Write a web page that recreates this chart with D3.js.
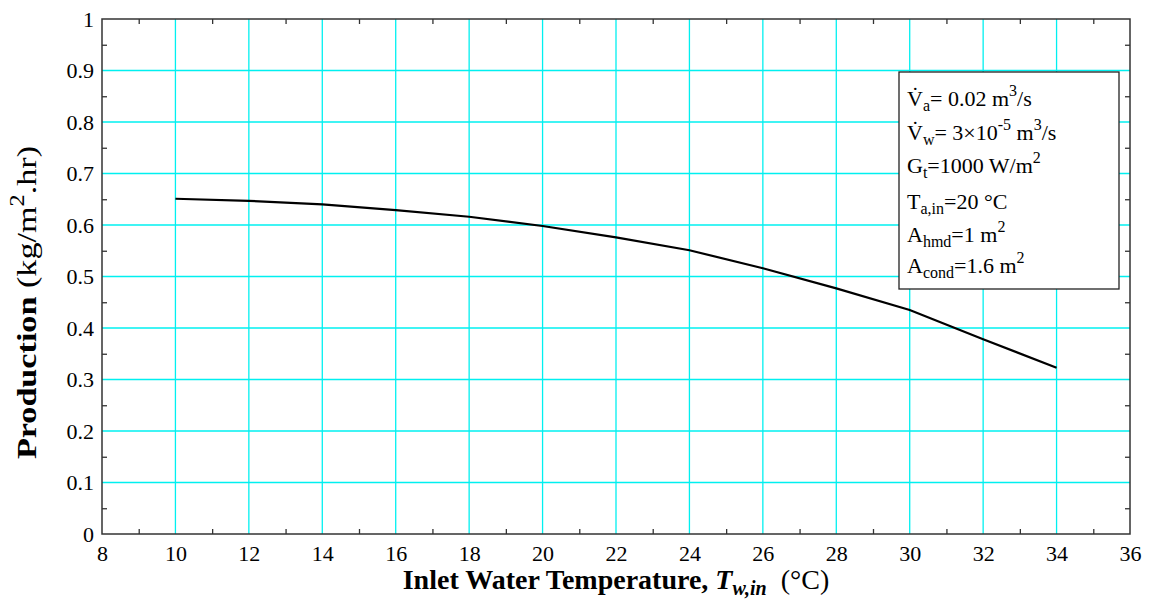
<!DOCTYPE html>
<html>
<head>
<meta charset="utf-8">
<script src="https://cdn.jsdelivr.net/npm/d3@7"></script>
<style>
  body { margin: 0; background: #fff; }
  svg, svg text { font-family: "Times New Roman", "Liberation Serif", serif; }
  .grid line { stroke: #00f0f0; stroke-width: 1.3; }
  .frame { fill: none; stroke: #333; stroke-width: 1.5; }
  .minor line { stroke: #333; stroke-width: 1.3; }
  .minor path { display: none; }
  .ticklbl path, .ticklbl line { display: none; }
</style>
</head>
<body>
<div id="chart"></div>
<script>
// data
var temps = [10, 12, 14, 16, 18, 20, 22, 24, 26, 28, 30, 32, 34];
var production = [0.651, 0.647, 0.640, 0.629, 0.616, 0.598, 0.576, 0.551, 0.516, 0.477, 0.435, 0.378, 0.323];

var xTicks = [8, 10, 12, 14, 16, 18, 20, 22, 24, 26, 28, 30, 32, 34, 36];
var yTicks = [0, 0.1, 0.2, 0.3, 0.4, 0.5, 0.6, 0.7, 0.8, 0.9, 1];
var xMinor = [9, 11, 13, 15, 17, 19, 21, 23, 25, 27, 29, 31, 33, 35];
var yMinor = [0.05, 0.15, 0.25, 0.35, 0.45, 0.55, 0.65, 0.75, 0.85, 0.95];

// legend lines, split into pieces
var legendLines = [
  ["V\u0307", "a", "= 0.02 m", "3", "/s"],
  ["V\u0307", "w", "= 3\u00d710", "-5", " m", "3", "/s"],
  ["G", "t", "=1000 W/m", "2"],
  ["T", "a,in", "=20 \u00b0C"],
  ["A", "hmd", "=1 m", "2"],
  ["A", "cond", "=1.6 m", "2"]
];
// which pieces are sub (s), super (p) or normal (n)
var legendKinds = [
  ["n", "s", "n", "p", "n"],
  ["n", "s", "n", "p", "n", "p", "n"],
  ["n", "s", "n", "p"],
  ["n", "s", "n"],
  ["n", "s", "n", "p"],
  ["n", "s", "n", "p"]
];

var serif = '"Times New Roman", "Liberation Serif", serif';

var W = 1155, H = 603;
var margin = {top: 19, right: 25, bottom: 69, left: 102},
    width = W - margin.left - margin.right,
    height = H - margin.top - margin.bottom;

var x = d3.scaleLinear().domain([8, 36]).range([0, width]);
var y = d3.scaleLinear().domain([0, 1]).range([height, 0]);

var svg = d3.select("#chart").append("svg")
    .attr("width", W)
    .attr("height", H)
  .append("g")
    .attr("transform", "translate(" + margin.left + "," + margin.top + ")");

// GRID
var grid = svg.append("g").attr("class", "grid");
grid.selectAll(".gx")
    .data(xTicks.filter(function(d) { return d > 8 && d < 36; }))
  .enter().append("line")
    .attr("x1", function(d) { return x(d); })
    .attr("x2", function(d) { return x(d); })
    .attr("y1", 0)
    .attr("y2", height);
grid.selectAll(".gy")
    .data(yTicks.filter(function(d) { return d > 0 && d < 1; }))
  .enter().append("line")
    .attr("x1", 0)
    .attr("x2", width)
    .attr("y1", function(d) { return y(d); })
    .attr("y2", function(d) { return y(d); });

// MINOR TICKS (inward, all four sides)
svg.append("g").attr("class", "minor")
    .attr("transform", "translate(0," + height + ")")
    .call(d3.axisBottom(x).tickValues(xMinor).tickSize(-5).tickFormat(""));
svg.append("g").attr("class", "minor")
    .call(d3.axisTop(x).tickValues(xMinor).tickSize(-5).tickFormat(""));
svg.append("g").attr("class", "minor")
    .call(d3.axisLeft(y).tickValues(yMinor).tickSize(-5).tickFormat(""));
svg.append("g").attr("class", "minor")
    .attr("transform", "translate(" + width + ",0)")
    .call(d3.axisRight(y).tickValues(yMinor).tickSize(-5).tickFormat(""));

// TICK LABELS
var xLab = svg.append("g").attr("class", "ticklbl")
    .attr("transform", "translate(0," + height + ")")
    .call(d3.axisBottom(x).tickValues(xTicks).tickSize(0).tickPadding(11).tickFormat(d3.format("d")));
var yLab = svg.append("g").attr("class", "ticklbl")
    .call(d3.axisLeft(y).tickValues(yTicks).tickSize(0).tickPadding(8).tickFormat(function(d) { return d === 0 || d === 1 ? d : d3.format(".1f")(d); }));
[xLab, yLab].forEach(function(g) {
  g.attr("font-family", null).attr("font-size", null);
  g.selectAll("text")
      .style("font-family", serif)
      .style("font-size", "22px")
      .style("fill", "#000");
});

// FRAME
svg.append("rect")
    .attr("class", "frame")
    .attr("width", width)
    .attr("height", height);

// LINE
var line = d3.line()
    .x(function(d, i) { return x(temps[i]); })
    .y(function(d) { return y(d); });

svg.append("path")
    .datum(production)
    .attr("d", line)
    .attr("fill", "none")
    .attr("stroke", "#000")
    .attr("stroke-width", 2.2);

// LEGEND BOX
var lg = svg.append("g")
    .attr("transform", "translate(" + (899 - margin.left) + "," + (72 - margin.top) + ")");
lg.append("rect")
    .attr("width", 220)
    .attr("height", 217)
    .attr("fill", "#fff")
    .attr("stroke", "#222")
    .attr("stroke-width", 1.3);

var baselines = [34, 68, 101, 137, 170, 201];
legendLines.forEach(function(parts, li) {
  var t = lg.append("text")
      .attr("x", 8)
      .attr("y", baselines[li])
      .style("font-size", "22px");
  var shift = 0;
  parts.forEach(function(p, k) {
    var kind = legendKinds[li][k];
    var target = kind === "s" ? 5 : (kind === "p" ? -10 : 0);
    var dy = target - shift;
    shift = target;
    t.append("tspan")
        .attr("dy", dy)
        .style("font-size", kind === "n" ? "22px" : "16px")
        .text(p);
  });
});

// AXIS TITLES
var xt = svg.append("text")
    .attr("x", width / 2 + 0)
    .attr("y", height + 55)
    .attr("text-anchor", "middle")
    .style("font-size", "28px");
xt.append("tspan").style("font-weight", "bold").text("Inlet Water Temperature, ");
xt.append("tspan").style("font-weight", "bold").style("font-style", "italic").text("T");
xt.append("tspan").style("font-weight", "bold").style("font-style", "italic")
    .style("font-size", "20px").attr("dy", 6).text("w,in");
xt.append("tspan").attr("dy", -6).text("\u00a0\u00a0(\u00b0C)");

var yt = svg.append("text")
    .attr("transform", "translate(" + (-66) + "," + (height / 2 + 26) + ") rotate(-90) scale(1.22,1)")
    .attr("text-anchor", "middle")
    .style("font-size", "28px");
yt.append("tspan").style("font-weight", "bold").text("Production ");
yt.append("tspan").text("(kg/m");
yt.append("tspan").style("font-size", "20px").attr("dy", -12).text("2");
yt.append("tspan").attr("dy", 12).text(".hr)");
</script>
</body>
</html>
